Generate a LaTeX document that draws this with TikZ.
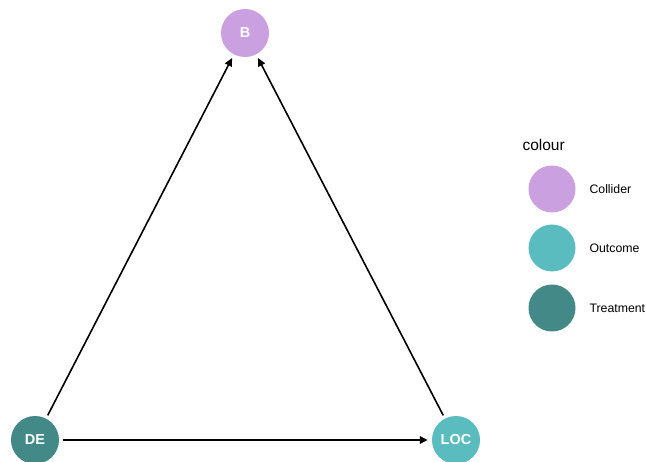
\documentclass[tikz,border=0pt]{standalone}
\usepackage{fontspec}
\setmainfont{Liberation Sans}
\usetikzlibrary{arrows.meta}
\definecolor{collider}{HTML}{CBA0E0}
\definecolor{outcome}{HTML}{5BBCBF}
\definecolor{treatment}{HTML}{428987}
\begin{document}
\begin{tikzpicture}[x=1pt,y=-1pt,
  dagnode/.style={circle,minimum size=48pt,inner sep=0pt,text=white,font=\fontsize{14.5pt}{16pt}\selectfont\bfseries},
  keydot/.style={circle,minimum size=47pt,inner sep=0pt},
  keytext/.style={anchor=west,font=\fontsize{12.3pt}{14pt}\selectfont},
  edge/.style={-{Triangle[length=8pt,width=7.5pt]},line width=1.6pt,shorten <=3.5pt,shorten >=4pt}]
\useasboundingbox (0,0) rectangle (646,462);
\fill[white] (0,0) rectangle (646,462);
% DAG nodes
\node[dagnode,fill=collider] (B) at (245,33) {B};
\node[dagnode,fill=treatment] (DE) at (35,440) {DE};
\node[dagnode,fill=outcome] (LOC) at (456,440) {LOC};
% directed edges
\draw[edge] (DE) -- (B);
\draw[edge] (LOC) -- (B);
\draw[edge] (DE) -- (LOC);
% legend
\node[anchor=west,font=\fontsize{15.5pt}{17pt}\selectfont] (title) at (519,145) {colour};
\node[keydot,fill=collider] (k1) at (552,189) {};
\node[keydot,fill=outcome] (k2) at (552,248) {};
\node[keydot,fill=treatment] (k3) at (552,308) {};
\node[keytext] (t1) at (586,189) {Collider};
\node[keytext] (t2) at (586,248) {Outcome};
\node[keytext] (t3) at (586,308) {Treatment};
\end{tikzpicture}
\end{document}
